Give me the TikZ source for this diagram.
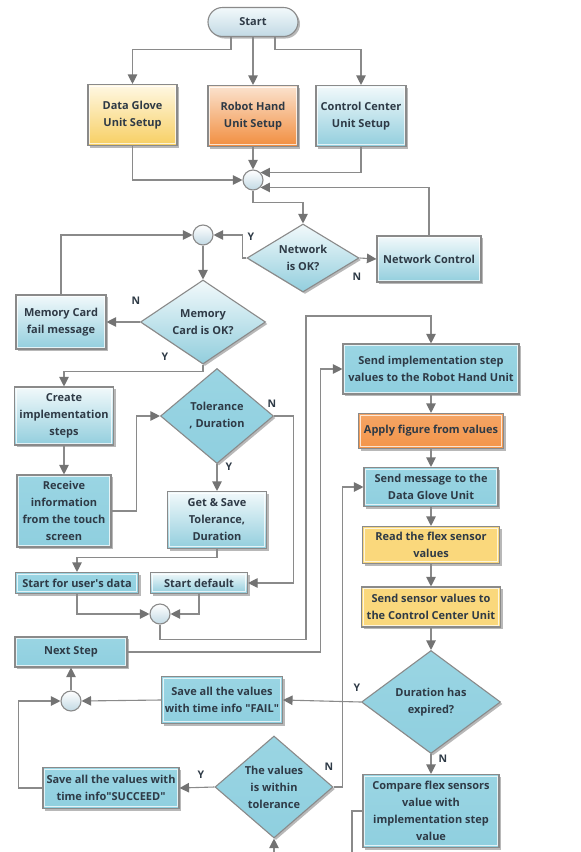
\documentclass[tikz,border=0pt]{standalone}
\usepackage{fontspec}
\setmainfont{Open Sans}
\usetikzlibrary{arrows.meta,shapes.geometric,shadows}
\definecolor{lineg}{HTML}{8A8A8A}
\definecolor{tipg}{HTML}{737373}
\definecolor{txt}{HTML}{2E3A46}
\definecolor{bsolid}{HTML}{8FCFDF}
\definecolor{bsolidtop}{HTML}{9AD5E3}
\definecolor{blight}{HTML}{F2F9FB}
\definecolor{bdark}{HTML}{92CEDD}
\definecolor{ylight}{HTML}{FFF8E4}
\definecolor{ydark}{HTML}{F7CF62}
\definecolor{ysolid}{HTML}{FAD87C}
\definecolor{olight}{HTML}{FBE3CF}
\definecolor{odark}{HTML}{F18D3E}
\definecolor{osolid}{HTML}{F3954A}
\definecolor{clight}{HTML}{FFFFFF}
\definecolor{cdark}{HTML}{C2D9E4}
\begin{document}
\begin{tikzpicture}[x=1pt,y=-1pt,
  base/.style={draw=lineg,line width=1.1pt,text=txt,align=center,inner sep=0pt,
    font=\fontsize{11}{17}\selectfont\bfseries,
    drop shadow={shadow xshift=2pt,shadow yshift=-2pt,fill=black,opacity=.28}},
  inl/.style={path picture={\draw[white,opacity=.75,line width=.9pt]
    ([shift={(1.6pt,-1.6pt)}]path picture bounding box.north west) rectangle
    ([shift={(-1.6pt,1.6pt)}]path picture bounding box.south east);}},
  boxsolid/.style={base,rectangle,top color=bsolidtop,bottom color=bsolid,inl},
  boxgrad/.style={base,rectangle,top color=blight,bottom color=bdark,inl},
  boxyel/.style={base,rectangle,top color=ylight,bottom color=ydark,inl},
  boxyelsolid/.style={base,rectangle,fill=ysolid,inl},
  boxora/.style={base,rectangle,top color=olight,bottom color=odark,inl},
  boxorasolid/.style={base,rectangle,top color=osolid!85!white,bottom color=osolid,inl},
  dia/.style={base,diamond,inner sep=-12pt},
  diasolid/.style={dia,top color=bsolidtop,bottom color=bsolid},
  diagrad/.style={dia,top color=blight,bottom color=bdark},
  junc/.style={circle,draw=lineg,line width=1.1pt,minimum size=20pt,inner sep=0pt,
    top color=clight,bottom color=cdark},
  arr/.style={draw=lineg,line width=1.1pt,-{Triangle[length=9.5pt,width=9.5pt,color=tipg]}},
  ln/.style={draw=lineg,line width=1.1pt},
  lab/.style={text=txt,font=\fontsize{10.5}{12}\selectfont\bfseries,inner sep=0pt}
]
\useasboundingbox (0,0) rectangle (581,852);
\fill[white] (0,0) rectangle (581,852);

% ---------- nodes ----------
\node[base,rounded corners=14.5pt,minimum width=90pt,minimum height=29pt,
  top color=blight,bottom color=cdark] (start) at (253,22) {Start};
\node[boxyel,minimum width=89pt,minimum height=61pt] (dg) at (132.5,115) {Data Glove\\Unit Setup};
\node[boxora,minimum width=90pt,minimum height=61pt] (rh) at (253,116) {Robot Hand\\Unit Setup};
\node[boxgrad,minimum width=90pt,minimum height=61pt] (cc) at (361,116) {Control Center\\Unit Setup};
\node[junc] (j1) at (253,180) {};
\node[diagrad,minimum width=112pt,minimum height=68pt] (net) at (303,258) {Network\\is OK?};
\node[boxgrad,minimum width=104pt,minimum height=46pt] (nc) at (429,259) {Network Control};
\node[junc] (j2) at (203,235) {};
\node[diagrad,minimum width=125pt,minimum height=84pt] (mem) at (203,322) {Memory\\Card is OK?};
\node[boxgrad,minimum width=90pt,minimum height=54pt] (mf) at (61,322) {Memory Card\\fail message};
\node[boxgrad,minimum width=99pt,minimum height=58pt] (cr) at (64,416) {Create\\implementation\\steps};
\node[boxsolid,minimum width=94pt,minimum height=72pt] (rc) at (64,511) {Receive\\information\\from the touch\\screen};
\node[diasolid,minimum width=113pt,minimum height=95pt] (tol) at (217,416) {Tolerance\\, Duration};
\node[boxgrad,minimum width=99pt,minimum height=57pt] (gs) at (217,520) {Get \& Save\\Tolerance,\\Duration};
\node[boxsolid,minimum width=123pt,minimum height=21pt] (su) at (77,583) {Start for user\textquotesingle s data};
\node[boxgrad,minimum width=97pt,minimum height=21pt] (sd) at (199,583) {Start default};
\node[junc] (j3) at (160,614) {};
\node[boxsolid,minimum width=112pt,minimum height=30pt] (ns) at (71,652) {Next Step};
\node[junc] (j4) at (71,701) {};
\node[boxsolid,minimum width=121pt,minimum height=47pt] (fail) at (222,700) {Save all the values\\with time info \textquotedbl FAIL\textquotedbl};
\node[boxsolid,minimum width=136pt,minimum height=41pt] (succ) at (111,788) {Save all the values with\\time info\textquotedbl SUCCEED\textquotedbl};
\node[diasolid,minimum width=118pt,minimum height=102pt] (val) at (274,787) {The values\\is within\\tolerance};
\node[boxsolid,minimum width=176pt,minimum height=50pt] (si) at (431,369) {Send implementation step\\values to the Robot Hand Unit};
\node[boxorasolid,minimum width=145pt,minimum height=35pt] (af) at (431,431) {Apply figure from values};
\node[boxsolid,minimum width=134pt,minimum height=39pt] (sm) at (431,487) {Send message to the\\Data Glove Unit};
\node[boxyelsolid,minimum width=137pt,minimum height=37pt] (rf) at (431,545) {Read the flex sensor\\values};
\node[boxyelsolid,minimum width=139pt,minimum height=40pt] (ss) at (431,607) {Send sensor values to\\the Control Center Unit};
\node[diasolid,minimum width=139pt,minimum height=103pt] (dur) at (431,702) {Duration has\\expired?};
\node[boxsolid,minimum width=136pt,minimum height=73pt] (cmp) at (431,811) {Compare flex sensors\\value with\\implementation step\\value};
\coordinate (b1) at (352,852);
\coordinate (b2) at (274,852);

% ---------- connectors ----------
\draw[arr] ([xshift=-22pt]start.south) -- ++(0,12) -| (dg.north);
\draw[arr] (start.south) -- (rh.north);
\draw[arr] ([xshift=22pt]start.south) -- ++(0,12) -| (cc.north);
\draw[arr] (dg.south) |- (j1.west);
\draw[arr] (rh.south) -- (j1.north);
\draw[arr] (cc.south) |- (j1.45);
\draw[arr] (nc.north) |- (j1.-45);
\draw[arr] (j1.south) -- ++(0,12) -| (net.north);
\draw[arr] (net.east) -- (nc.west);
\draw[arr] (net.west) -- ++(-4,0) |- (j2.east);
\draw[arr] (mf.north) |- (j2.west);
\draw[arr] (j2.south) -- (mem.north);
\draw[arr] (mem.west) -- (mf.east);
\draw[arr] (mem.south) -- ++(0,7) -| (cr.north);
\draw[arr] (cr.south) -- (rc.north);
\draw[arr] (rc.east) -- ++(25,0) |- (tol.west);
\draw[arr] (tol.east) -- ++(19,0) |- (sd.east);
\draw[arr] (tol.south) -- (gs.north);
\draw[arr] (gs.south) -- ++(0,8) -| (su.north);
\draw[arr] (su.south) |- (j3.west);
\draw[arr] (sd.south) |- (j3.east);
\draw[arr] (j3.south) -- ++(0,15) -| (306,316) -| (si.north);
\draw[arr] (ns.east) -| ([xshift=-22pt]si.west) -- (si.west);
\draw[arr] (si.south) -- (af.north);
\draw[arr] (af.south) -- (sm.north);
\draw[arr] (sm.south) -- (rf.north);
\draw[arr] (rf.south) -- (ss.north);
\draw[arr] (ss.south) -- (dur.north);
\draw[arr] (dur.west) -- (fail.east);
\draw[arr] (fail.west) -- (j4.east);
\draw[arr] (j4.north) -- (ns.south);
\draw[arr] (dur.south) -- (cmp.north);
\draw[arr] (val.east) -- ++(9,0) |- (sm.west);
\draw[arr] (val.west) -- (succ.east);
\draw[arr] (succ.west) -- ++(-24,0) |- (j4.west);
\draw[ln] (cmp.west) -| (b1);
\draw[arr] (b2) -- (val.south);

% ---------- labels ----------
\node[lab] (lny) at (251,237) {Y};
\node[lab] (lnn) at (357,277) {N};
\node[lab] (lmn) at (136,301) {N};
\node[lab] (lmy) at (165,357) {Y};
\node[lab] (ltn) at (272,404) {N};
\node[lab] (lty) at (229,467) {Y};
\node[lab] (ldy) at (357,688) {Y};
\node[lab] (ldn) at (443,759) {N};
\node[lab] (lvn) at (329,767) {N};
\node[lab] (lvy) at (201,775) {Y};
\end{tikzpicture}
\end{document}
